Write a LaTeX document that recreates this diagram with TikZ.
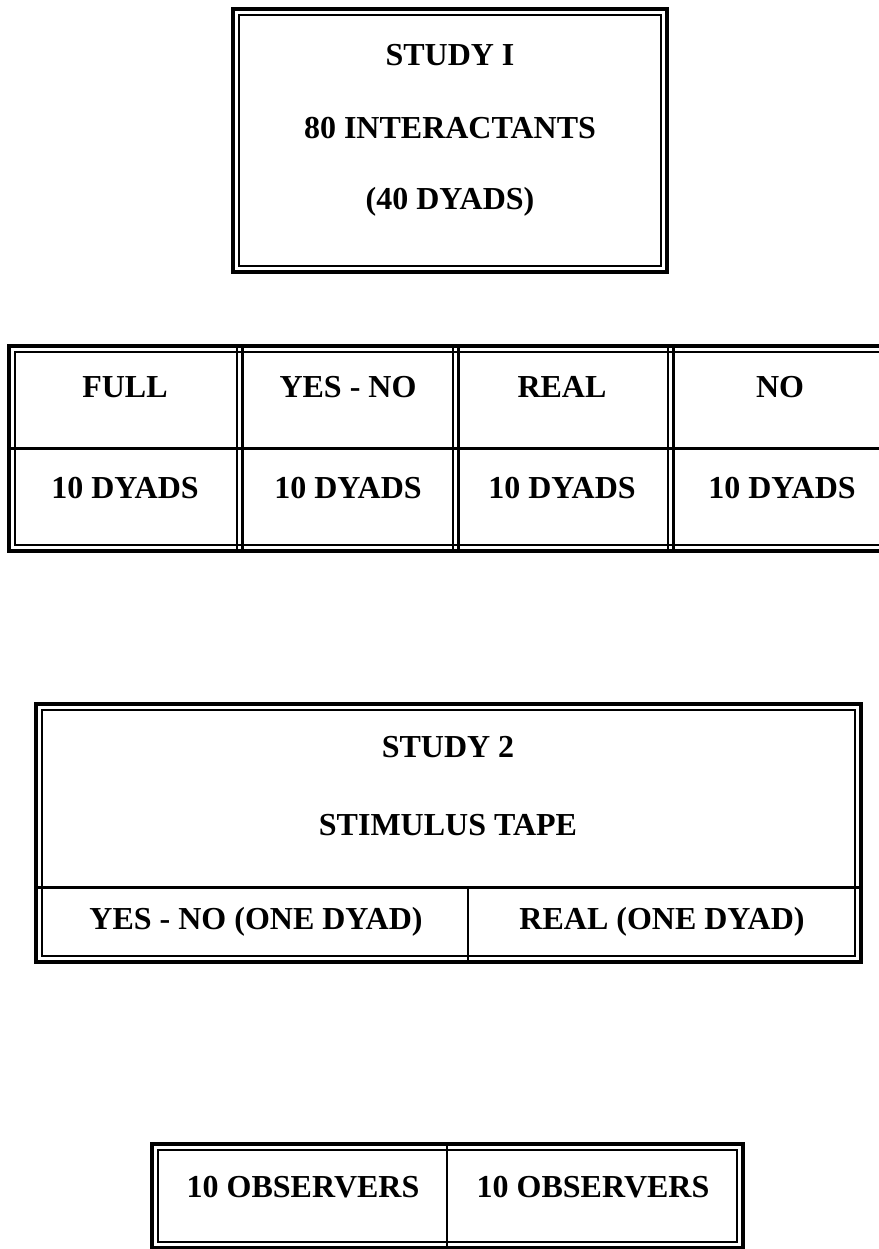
\documentclass[tikz,border=0pt]{standalone}
\usepackage{fontspec}
\setmainfont{Liberation Serif}
\usepackage{tikz}
\usetikzlibrary{positioning}

\begin{document}
\begin{tikzpicture}[
  x=0.5pt,y=-0.5pt,
  every node/.style={font=\fontsize{16}{18}\selectfont\bfseries,inner sep=0pt},
  frame/.style={draw,line width=1.9pt},
  inframe/.style={draw,line width=0.6pt},
  rule/.style={line width=1.5pt},
  thinrule/.style={line width=0.7pt},
  midrule/.style={line width=1.1pt}
]
  \useasboundingbox (0,0) rectangle (879,1249);
  % study 1
  \draw[frame] (233,9) rectangle (667,272);
  \draw[inframe] (239,15) rectangle (661,266);
  \node (study1) at (450,55) {STUDY I};
  \node[below=36.5pt of study1.center,anchor=center] (inter) {80 INTERACTANTS};
  \node[below=37pt of inter.center,anchor=center] (dyads40) {(40 DYADS)};

  % conditions row
  \draw[frame] (9,346) rectangle (895,551);
  \draw[inframe] (15,352) rectangle (895,545);
  \coordinate (mid1) at (9,448);
  \draw[rule] (mid1) -- (895,448);
  \foreach \x in {237,453,668}{
    \draw[thinrule] (\x,346) -- (\x,551);
    \draw[rule] (\x+5.5,346) -- (\x+5.5,551);
  }
  \node (full) at (125,387) {FULL};
  \node (yesno) at (348,387) {YES - NO};
  \node (real) at (562,387) {REAL};
  \node (no) at (780,387) {NO};
  \foreach \n/\x in {d1/125,d2/348,d3/562,d4/782}
    \node (\n) at (\x,488) {10 DYADS};

  % study 2
  \draw[frame] (36,704) rectangle (861,962);
  \draw[inframe] (42,710) rectangle (855,956);
  \draw[rule] (36,887) -- (861,887);
  \draw[midrule] (468,887) -- (468,962);
  \node (study2) at (448,747) {STUDY 2};
  \node (tape) at (448,825) {STIMULUS TAPE};
  \node (ynone) at (256,922) {YES - NO (ONE DYAD)};
  \node (realone) at (662,922) {REAL (ONE DYAD)};

  % observers
  \draw[frame] (152,1144) rectangle (743,1248);
  \draw[inframe] (158,1150) rectangle (737,1242);
  \draw[midrule] (447,1144) -- (447,1248);
  \node (obs1) at (303,1187) {10 OBSERVERS};
  \node (obs2) at (593,1187) {10 OBSERVERS};
\end{tikzpicture}
\end{document}
